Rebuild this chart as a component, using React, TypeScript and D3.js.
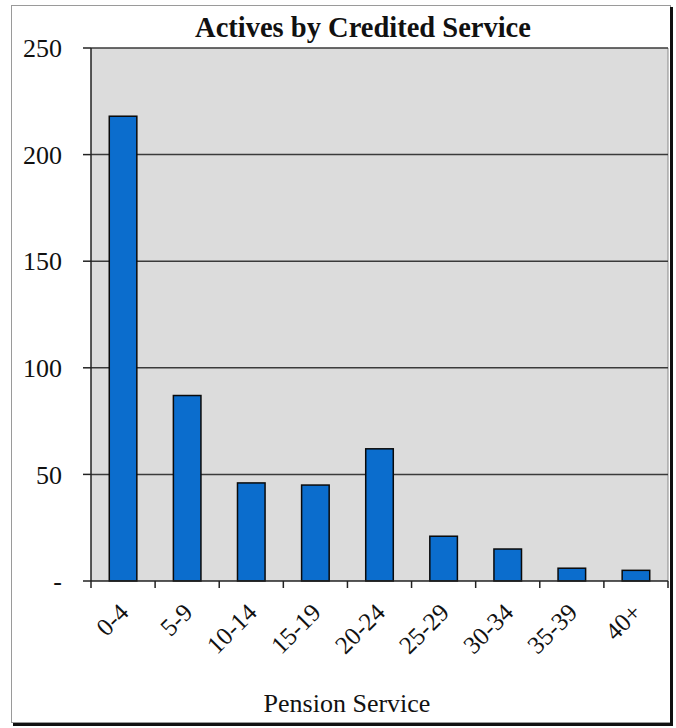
import React from "react";
import * as d3 from "d3";

// Active members grouped by years of credited pension service
const categories: string[] = ["0-4", "5-9", "10-14", "15-19", "20-24", "25-29", "30-34", "35-39", "40+"];
const actives: number[] = [218, 87, 46, 45, 62, 21, 15, 6, 5];
const yTicks: number[] = [0, 50, 100, 150, 200, 250];

const W = 676;
const H = 728;
const plot = { left: 91, right: 668, top: 48, bottom: 581 };
const FONT = "'Liberation Serif', 'Times New Roman', serif";

export default function App() {
  const x = d3.scaleBand<string>().domain(categories).range([plot.left, plot.right]).padding(0);
  const y = d3.scaleLinear().domain([0, 250]).range([plot.bottom, plot.top]);
  const bw = x.bandwidth() * 0.43;
  const fmt = (v: number) => (v === 0 ? "-" : d3.format("d")(v));

  return (
    <svg
      width={W}
      height={H}
      style={{ position: "absolute", left: 0, top: 0, background: "#ffffff" }}
      fontFamily={FONT}
    >
      {/* chart frame with drop shadow */}
      <rect x={11.5} y={5.5} width={659} height={717} fill="#ffffff" stroke="#9a9a9a" strokeWidth={1} />
      <line x1={671.5} y1={7} x2={671.5} y2={726} stroke="#111" strokeWidth={3} />
      <line x1={13} y1={724.5} x2={673} y2={724.5} stroke="#111" strokeWidth={3} />

      {/* plot area */}
      <rect
        x={plot.left}
        y={plot.top}
        width={plot.right - plot.left}
        height={plot.bottom - plot.top}
        fill="#dcdcdc"
      />
      <line x1={plot.right} y1={plot.top} x2={plot.right} y2={plot.bottom} stroke="#8a8a8a" strokeWidth={1} />

      {/* gridlines and y-axis ticks */}
      {yTicks.map((t) => (
        <g key={t}>
          {t > 0 && (
            <line x1={plot.left} x2={plot.right} y1={y(t)} y2={y(t)} stroke="#3a3a3a" strokeWidth={1.5} />
          )}
          <line x1={plot.left - 8} x2={plot.left} y1={y(t)} y2={y(t)} stroke="#222" strokeWidth={1.5} />
          <text
            x={62}
            y={y(t)}
            dy="0.35em"
            textAnchor="end"
            fontSize={26}
            fill="#111"
          >
            {fmt(t)}
          </text>
        </g>
      ))}

      {/* bars */}
      {categories.map((c, i) => (
        <rect
          key={c}
          x={(x(c) as number) + (x.bandwidth() - bw) / 2}
          y={y(actives[i])}
          width={bw}
          height={y(0) - y(actives[i])}
          fill="#0b6dcd"
          stroke="#0a0a0a"
          strokeWidth={1.5}
        />
      ))}

      {/* axes */}
      <line x1={plot.left} x2={plot.left} y1={plot.top} y2={plot.bottom} stroke="#222" strokeWidth={1.5} />
      <line x1={plot.left} x2={plot.right} y1={plot.bottom} y2={plot.bottom} stroke="#222" strokeWidth={1.5} />
      {categories.concat([""]).map((c, i) => {
        const tx = plot.left + i * x.bandwidth();
        return <line key={"t" + i} x1={tx} x2={tx} y1={plot.bottom} y2={plot.bottom + 7} stroke="#222" strokeWidth={1.5} />;
      })}

      {/* category labels */}
      {categories.map((c) => {
        const cx = (x(c) as number) + x.bandwidth() / 2 + 7;
        const cy = plot.bottom + 33;
        return (
          <text
            key={"l" + c}
            x={cx}
            y={cy}
            textAnchor="end"
            fontSize={25}
            fill="#111"
            transform={`rotate(-45, ${cx}, ${cy})`}
          >
            {c}
          </text>
        );
      })}

      {/* titles */}
      <text x={363} y={37} textAnchor="middle" fontSize={28.5} fontWeight="bold" fill="#111">
        Actives by Credited Service
      </text>
      <text x={347} y={712} textAnchor="middle" fontSize={26} fill="#111">
        Pension Service
      </text>
    </svg>
  );
}
